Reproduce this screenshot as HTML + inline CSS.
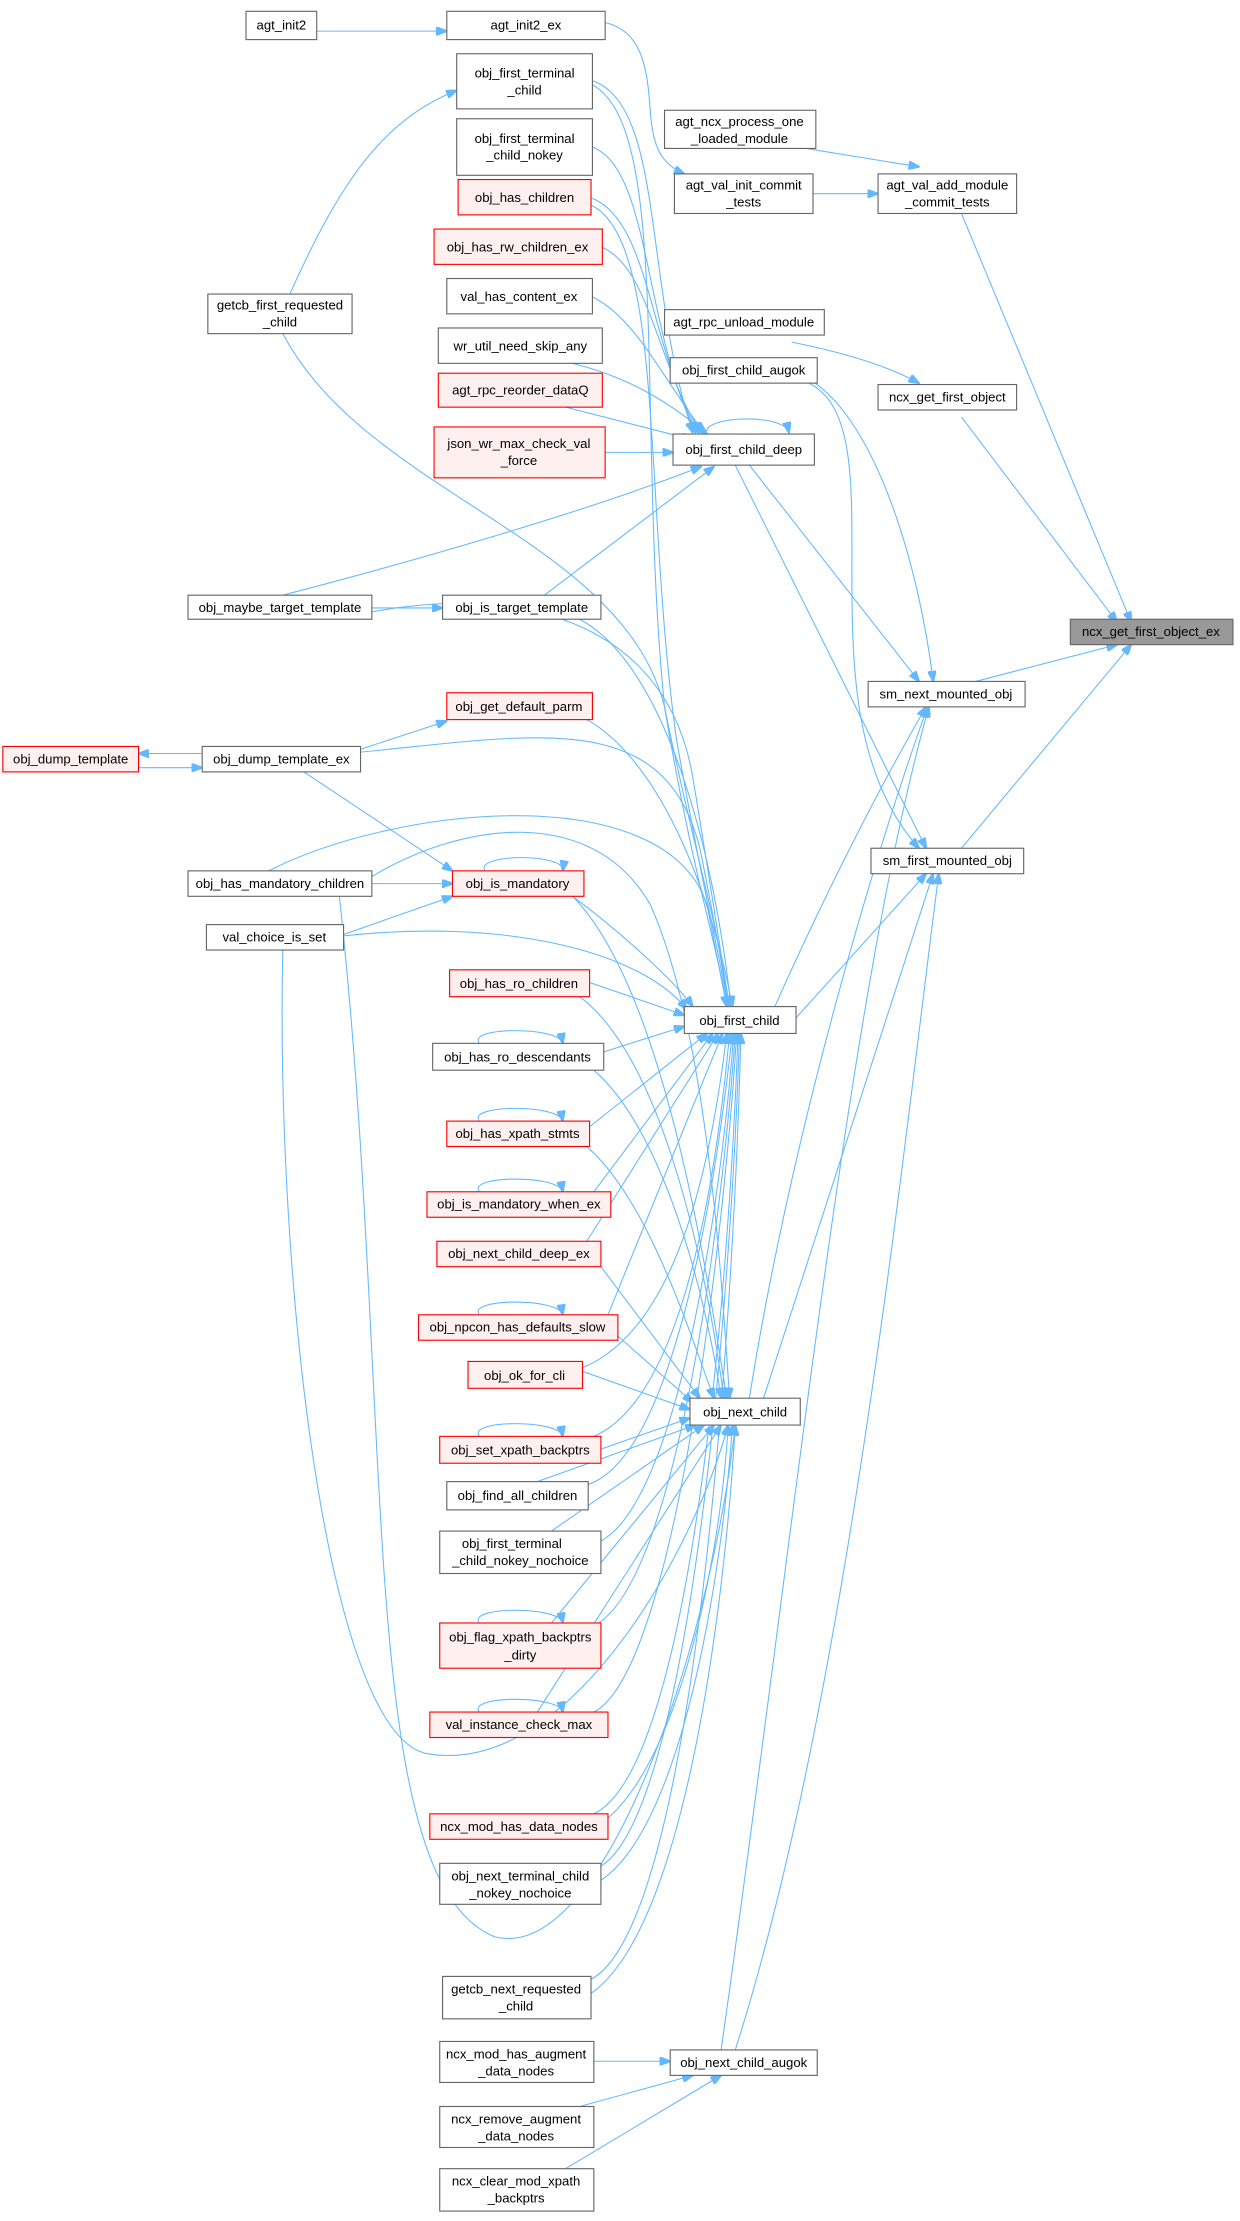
<!DOCTYPE html>
<html><head><meta charset="utf-8"><style>
html,body{margin:0;padding:0;background:#fff;}
svg{display:block;}
text{font-family:"Liberation Sans",Arial,sans-serif;font-size:9.3px;fill:#000;text-anchor:middle;}
.n{fill:#fff;stroke:#666;stroke-width:0.8;}
.r{fill:#fff0f0;stroke:#ff0000;stroke-width:0.8;}
.g{fill:#999;stroke:#666;stroke-width:0.8;}
.e path{fill:none;stroke:#63b8ff;stroke-width:0.75;marker-end:url(#a);}
</style></head><body>
<svg width="1240" height="2221" viewBox="0 0 877 1571" preserveAspectRatio="none" xmlns="http://www.w3.org/2000/svg">
<defs><marker id="a" markerWidth="8" markerHeight="6" refX="7.5" refY="3" orient="auto" markerUnits="userSpaceOnUse"><path d="M0,0 L8,3 L0,6 z" fill="#63b8ff" stroke="#63b8ff"/></marker></defs>
<g class="e">
<path d="M222,22 L316,22"/>
<path d="M428,16 C455,22 458,50 460,80 C462,105 468,116 484,123"/>
<path d="M205,208 C240,130 270,85 323,64"/>
<path d="M419,57 C470,75 455,200 490,306"/>
<path d="M419,104 C460,120 455,230 492,306"/>
<path d="M418,140 C460,155 460,250 494,306"/>
<path d="M426,175 C460,190 465,260 496,306"/>
<path d="M419,210 C450,225 470,270 498,306"/>
<path d="M405,257 C450,268 480,290 500,307"/>
<path d="M400,288 L490,311"/>
<path d="M428,320 L476,320"/>
<path d="M200,421 C300,395 420,360 496,330"/>
<path d="M385,421 L505,330"/>
<path d="M500,307 C495,294 555,292 558,306"/>
<path d="M419,60 C475,90 450,300 470,500 C490,620 510,680 514,712"/>
<path d="M418,145 C470,170 455,350 478,520 C495,620 510,680 515,712"/>
<path d="M200,236 C260,350 440,380 470,500 C490,600 510,660 515,712"/>
<path d="M240,438 C350,410 470,430 490,550 C505,640 512,690 516,712"/>
<path d="M263,430 L313,430"/>
<path d="M410,438 C470,470 505,600 517,712"/>
<path d="M415,509 C470,540 505,640 518,712"/>
<path d="M255,532 C380,520 470,500 495,600 C505,650 512,690 515,712"/>
<path d="M255,530 L316,510"/>
<path d="M143,533 L98,533"/>
<path d="M98,543 L143,543"/>
<path d="M215,546 L320,616"/>
<path d="M190,616 C280,570 470,550 500,640 L514,712"/>
<path d="M263,625 L320,625"/>
<path d="M243,661 L320,634"/>
<path d="M343,616 C335,604 400,603 398,616"/>
<path d="M405,634 C440,660 478,695 490,712"/>
<path d="M243,662 C350,650 450,670 486,714"/>
<path d="M417,695 L484,718"/>
<path d="M427,744 L484,726"/>
<path d="M417,797 L500,731"/>
<path d="M420,843 L504,731"/>
<path d="M415,878 L508,731"/>
<path d="M430,930 L511,731"/>
<path d="M405,970 C470,950 500,850 514,731"/>
<path d="M420,1016 C480,990 505,850 516,731"/>
<path d="M416,1050 C475,1030 505,850 518,731"/>
<path d="M425,1090 C480,1060 510,850 519,731"/>
<path d="M420,1150 C480,1120 512,850 520,731"/>
<path d="M420,1211 C480,1180 514,850 521,731"/>
<path d="M420,1283 C490,1250 516,900 522,731"/>
<path d="M425,1320 C490,1280 518,900 523,731"/>
<path d="M418,1400 C495,1360 520,900 524,731"/>
<path d="M339,738 C330,726 396,726 398,738"/>
<path d="M339,793 C330,781 396,781 398,793"/>
<path d="M339,843 C330,831 396,831 398,843"/>
<path d="M339,930 C330,918 396,918 398,930"/>
<path d="M339,1016 C330,1004 396,1004 398,1016"/>
<path d="M339,1148 C330,1136 396,1136 398,1148"/>
<path d="M339,1211 C330,1199 396,1199 398,1211"/>
<path d="M200,672 C195,900 230,1220 300,1240 C400,1260 490,1100 515,1008"/>
<path d="M240,634 C280,1000 250,1330 350,1370 C430,1390 505,1150 520,1008"/>
<path d="M263,620 C330,580 420,570 460,640 C500,730 510,900 516,989"/>
<path d="M405,634 C470,700 500,900 514,989"/>
<path d="M410,705 C470,750 500,900 512,989"/>
<path d="M420,757 C470,800 500,920 510,989"/>
<path d="M415,811 C460,850 490,950 505,989"/>
<path d="M425,896 L495,989"/>
<path d="M437,945 L490,992"/>
<path d="M412,970 L488,997"/>
<path d="M425,1025 L488,1003"/>
<path d="M380,1048 L492,1008"/>
<path d="M390,1083 L498,1008"/>
<path d="M390,1148 L505,1008"/>
<path d="M380,1211 L510,1008"/>
<path d="M425,1290 C480,1250 510,1100 515,1008"/>
<path d="M425,1330 C485,1290 512,1100 518,1008"/>
<path d="M418,1410 C490,1360 515,1100 520,1008"/>
<path d="M548,712 C580,640 620,560 655,500"/>
<path d="M563,720 L655,618"/>
<path d="M530,989 C560,800 620,600 656,500"/>
<path d="M540,989 L660,618"/>
<path d="M510,1450 C560,1100 600,700 657,500"/>
<path d="M520,1450 C600,1200 640,800 664,618"/>
<path d="M530,329 L650,482"/>
<path d="M520,329 L655,600"/>
<path d="M575,270 C620,300 650,400 660,482"/>
<path d="M570,270 C640,300 560,500 650,600"/>
<path d="M690,482 L790,456"/>
<path d="M680,600 L800,456"/>
<path d="M680,295 L790,440"/>
<path d="M680,151 L800,440"/>
<path d="M560,242 C600,250 630,260 650,271"/>
<path d="M570,105 L650,118"/>
<path d="M575,137 L621,137"/>
<path d="M420,1458 L474,1458"/>
<path d="M410,1490 L490,1468"/>
<path d="M400,1534 L510,1468"/>
</g>
<g>
<rect class="n" x="174" y="8" width="50" height="20"/><text x="199" y="21">agt_init2</text>
<rect class="n" x="316" y="8" width="112" height="20"/><text x="372" y="21">agt_init2_ex</text>
<rect class="n" x="323" y="38" width="96" height="39"/><text x="371" y="55">obj_first_terminal</text><text x="371" y="67">_child</text>
<rect class="n" x="323" y="84" width="96" height="40"/><text x="371" y="101">obj_first_terminal</text><text x="371" y="113">_child_nokey</text>
<rect class="r" x="324" y="127" width="94" height="25"/><text x="371" y="143">obj_has_children</text>
<rect class="r" x="307" y="162" width="119" height="25"/><text x="366" y="178">obj_has_rw_children_ex</text>
<rect class="n" x="316" y="197" width="103" height="25"/><text x="367" y="213">val_has_content_ex</text>
<rect class="n" x="310" y="232" width="116" height="25"/><text x="368" y="248">wr_util_need_skip_any</text>
<rect class="r" x="310" y="264" width="116" height="24"/><text x="368" y="279">agt_rpc_reorder_dataQ</text>
<rect class="r" x="307" y="302" width="121" height="36"/><text x="367" y="317">json_wr_max_check_val</text><text x="367" y="329">_force</text>
<rect class="n" x="147" y="208" width="102" height="28"/><text x="198" y="219">getcb_first_requested</text><text x="198" y="231">_child</text>
<rect class="n" x="470" y="78" width="107" height="27"/><text x="523" y="89">agt_ncx_process_one</text><text x="523" y="101">_loaded_module</text>
<rect class="n" x="477" y="123" width="98" height="28"/><text x="526" y="134">agt_val_init_commit</text><text x="526" y="146">_tests</text>
<rect class="n" x="621" y="123" width="98" height="28"/><text x="670" y="134">agt_val_add_module</text><text x="670" y="146">_commit_tests</text>
<rect class="n" x="470" y="219" width="113" height="18"/><text x="526" y="231">agt_rpc_unload_module</text>
<rect class="n" x="474" y="253" width="104" height="18"/><text x="526" y="265">obj_first_child_augok</text>
<rect class="n" x="621" y="272" width="98" height="18"/><text x="670" y="284">ncx_get_first_object</text>
<rect class="n" x="476" y="307" width="100" height="22"/><text x="526" y="321">obj_first_child_deep</text>
<rect class="g" x="757" y="438" width="115" height="18"/><text x="814" y="450">ncx_get_first_object_ex</text>
<rect class="n" x="614" y="482" width="111" height="18"/><text x="669" y="494">sm_next_mounted_obj</text>
<rect class="n" x="616" y="600" width="108" height="18"/><text x="670" y="612">sm_first_mounted_obj</text>
<rect class="n" x="133" y="421" width="130" height="17"/><text x="198" y="433">obj_maybe_target_template</text>
<rect class="n" x="313" y="421" width="112" height="17"/><text x="369" y="433">obj_is_target_template</text>
<rect class="r" x="316" y="490" width="103" height="19"/><text x="367" y="503">obj_get_default_parm</text>
<rect class="r" x="2" y="528" width="96" height="18"/><text x="50" y="540">obj_dump_template</text>
<rect class="n" x="143" y="528" width="112" height="18"/><text x="199" y="540">obj_dump_template_ex</text>
<rect class="n" x="133" y="616" width="130" height="18"/><text x="198" y="628">obj_has_mandatory_children</text>
<rect class="r" x="320" y="616" width="93" height="18"/><text x="366" y="628">obj_is_mandatory</text>
<rect class="n" x="146" y="654" width="97" height="18"/><text x="194" y="666">val_choice_is_set</text>
<rect class="r" x="318" y="686" width="99" height="19"/><text x="367" y="699">obj_has_ro_children</text>
<rect class="n" x="484" y="712" width="79" height="19"/><text x="523" y="725">obj_first_child</text>
<rect class="n" x="306" y="738" width="121" height="19"/><text x="366" y="751">obj_has_ro_descendants</text>
<rect class="r" x="316" y="793" width="101" height="18"/><text x="366" y="805">obj_has_xpath_stmts</text>
<rect class="r" x="302" y="843" width="130" height="18"/><text x="367" y="855">obj_is_mandatory_when_ex</text>
<rect class="r" x="309" y="878" width="116" height="18"/><text x="367" y="890">obj_next_child_deep_ex</text>
<rect class="r" x="296" y="930" width="141" height="18"/><text x="366" y="942">obj_npcon_has_defaults_slow</text>
<rect class="r" x="331" y="963" width="81" height="19"/><text x="371" y="976">obj_ok_for_cli</text>
<rect class="n" x="488" y="989" width="78" height="19"/><text x="527" y="1002">obj_next_child</text>
<rect class="r" x="311" y="1016" width="114" height="19"/><text x="368" y="1029">obj_set_xpath_backptrs</text>
<rect class="n" x="316" y="1048" width="100" height="20"/><text x="366" y="1061">obj_find_all_children</text>
<rect class="n" x="311" y="1083" width="114" height="30"/><text x="362" y="1095">obj_first_terminal</text><text x="368" y="1107">_child_nokey_nochoice</text>
<rect class="r" x="311" y="1148" width="114" height="32"/><text x="368" y="1161">obj_flag_xpath_backptrs</text><text x="368" y="1174">_dirty</text>
<rect class="r" x="304" y="1211" width="126" height="18"/><text x="367" y="1223">val_instance_check_max</text>
<rect class="r" x="304" y="1283" width="126" height="18"/><text x="367" y="1295">ncx_mod_has_data_nodes</text>
<rect class="n" x="311" y="1318" width="114" height="29"/><text x="368" y="1330">obj_next_terminal_child</text><text x="368" y="1342">_nokey_nochoice</text>
<rect class="n" x="313" y="1398" width="105" height="30"/><text x="365" y="1410">getcb_next_requested</text><text x="365" y="1422">_child</text>
<rect class="n" x="474" y="1450" width="104" height="18"/><text x="526" y="1462">obj_next_child_augok</text>
<rect class="n" x="311" y="1444" width="109" height="29"/><text x="365" y="1456">ncx_mod_has_augment</text><text x="365" y="1468">_data_nodes</text>
<rect class="n" x="311" y="1490" width="109" height="29"/><text x="365" y="1502">ncx_remove_augment</text><text x="365" y="1514">_data_nodes</text>
<rect class="n" x="311" y="1534" width="109" height="30"/><text x="365" y="1546">ncx_clear_mod_xpath</text><text x="365" y="1558">_backptrs</text>
</g>
</svg>
</body></html>
